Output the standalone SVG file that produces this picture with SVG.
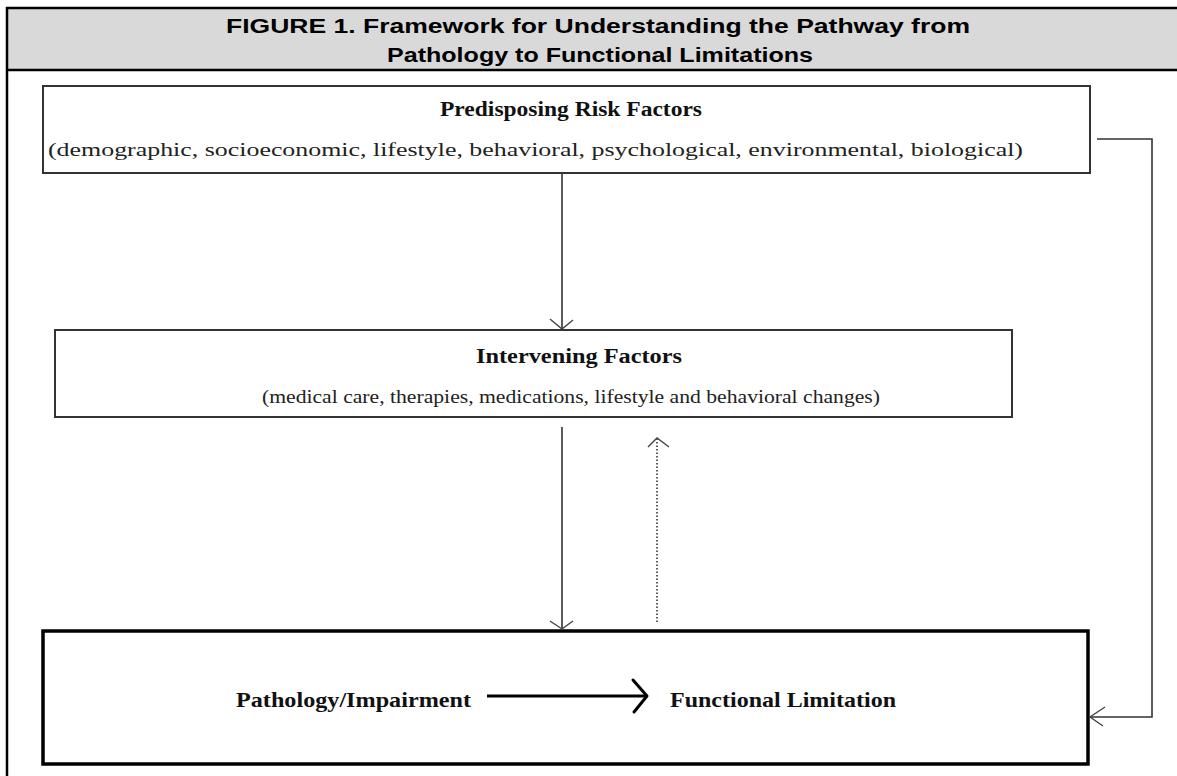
<svg xmlns="http://www.w3.org/2000/svg" width="1177" height="776" viewBox="0 0 1177 776">
  <style>
    .title { font-family: "Liberation Sans", Arial, sans-serif; font-weight: bold; font-size: 20px; fill: #000; }
    .head { font-family: "Liberation Serif", "Times New Roman", serif; font-weight: bold; font-size: 20px; fill: #111; }
    .sub { font-family: "Liberation Serif", "Times New Roman", serif; font-size: 18px; fill: #222; }
    .big { font-family: "Liberation Serif", "Times New Roman", serif; font-weight: bold; font-size: 22px; fill: #111; }
    .box { fill: #fff; stroke: #333; stroke-width: 2; }
    .box-main { fill: #fff; stroke: #000; stroke-width: 3.5; }
    .link { fill: none; stroke: #333; stroke-width: 1.6; }
    .head-arrow { fill: none; stroke: #444; stroke-width: 1.4; }
    .dotted { fill: none; stroke: #333; stroke-width: 1.6; stroke-dasharray: 1.5 2; }
  </style>

  <!-- page frame and caption band -->
  <g id="frame">
    <rect x="0" y="0" width="1177" height="776" fill="#fff"/>
    <rect x="7" y="8" width="1175" height="62" fill="#d9d9d9"/>
    <line x1="6" y1="8" x2="1177" y2="8" stroke="#000" stroke-width="2.5"/>
    <line x1="7" y1="7" x2="7" y2="776" stroke="#000" stroke-width="2.5"/>
    <line x1="6" y1="70" x2="1177" y2="70" stroke="#000" stroke-width="2.5"/>
    <text class="title" x="226" y="33" textLength="744" lengthAdjust="spacingAndGlyphs">FIGURE 1. Framework for Understanding the Pathway from</text>
    <text class="title" x="387" y="62" textLength="426" lengthAdjust="spacingAndGlyphs">Pathology to Functional Limitations</text>
  </g>

  <g id="predisposing">
    <rect class="box" x="43" y="86" width="1047" height="87"/>
    <text class="head" x="440" y="116" textLength="262" lengthAdjust="spacingAndGlyphs">Predisposing Risk Factors</text>
    <text class="sub" x="48" y="156" textLength="975" lengthAdjust="spacingAndGlyphs">(demographic, socioeconomic, lifestyle, behavioral, psychological, environmental, biological)</text>
  </g>

  <g id="intervening">
    <rect class="box" x="55" y="330" width="957" height="87"/>
    <text class="head" x="476" y="363" textLength="206" lengthAdjust="spacingAndGlyphs">Intervening Factors</text>
    <text class="sub" x="262" y="403" textLength="618" lengthAdjust="spacingAndGlyphs">(medical care, therapies, medications, lifestyle and behavioral changes)</text>
  </g>

  <g id="outcome">
    <rect class="box-main" x="43" y="631" width="1045" height="133"/>
    <text class="big" x="236" y="707" textLength="235" lengthAdjust="spacingAndGlyphs">Pathology/Impairment</text>
    <text class="big" x="670" y="707" textLength="226" lengthAdjust="spacingAndGlyphs">Functional Limitation</text>
    <!-- pathology leads to limitation -->
    <line x1="487" y1="696" x2="646" y2="696" stroke="#000" stroke-width="3"/>
    <polyline points="633,680 647,696 634,712" fill="none" stroke="#000" stroke-width="3" stroke-linecap="round" stroke-linejoin="round"/>
  </g>

  <g id="connectors">
    <!-- risk factors to intervening factors -->
    <line class="link" x1="562" y1="174" x2="562" y2="329"/>
    <polyline class="head-arrow" points="550,319 562,329 573,320"/>
    <!-- intervening factors to pathology -->
    <line class="link" x1="562" y1="427" x2="562" y2="629"/>
    <polyline class="head-arrow" points="550,621 562,629 573,621"/>
    <!-- feedback from pathology to intervening factors -->
    <line class="dotted" x1="657" y1="622" x2="657" y2="439"/>
    <polyline class="head-arrow" points="648,447 657,438 669,447"/>
    <!-- risk factors directly to the outcome box -->
    <polyline class="link" points="1097,139 1152,139 1152,717 1090,717"/>
    <polyline class="head-arrow" points="1105,707 1090,717 1103,726"/>
  </g>
</svg>
